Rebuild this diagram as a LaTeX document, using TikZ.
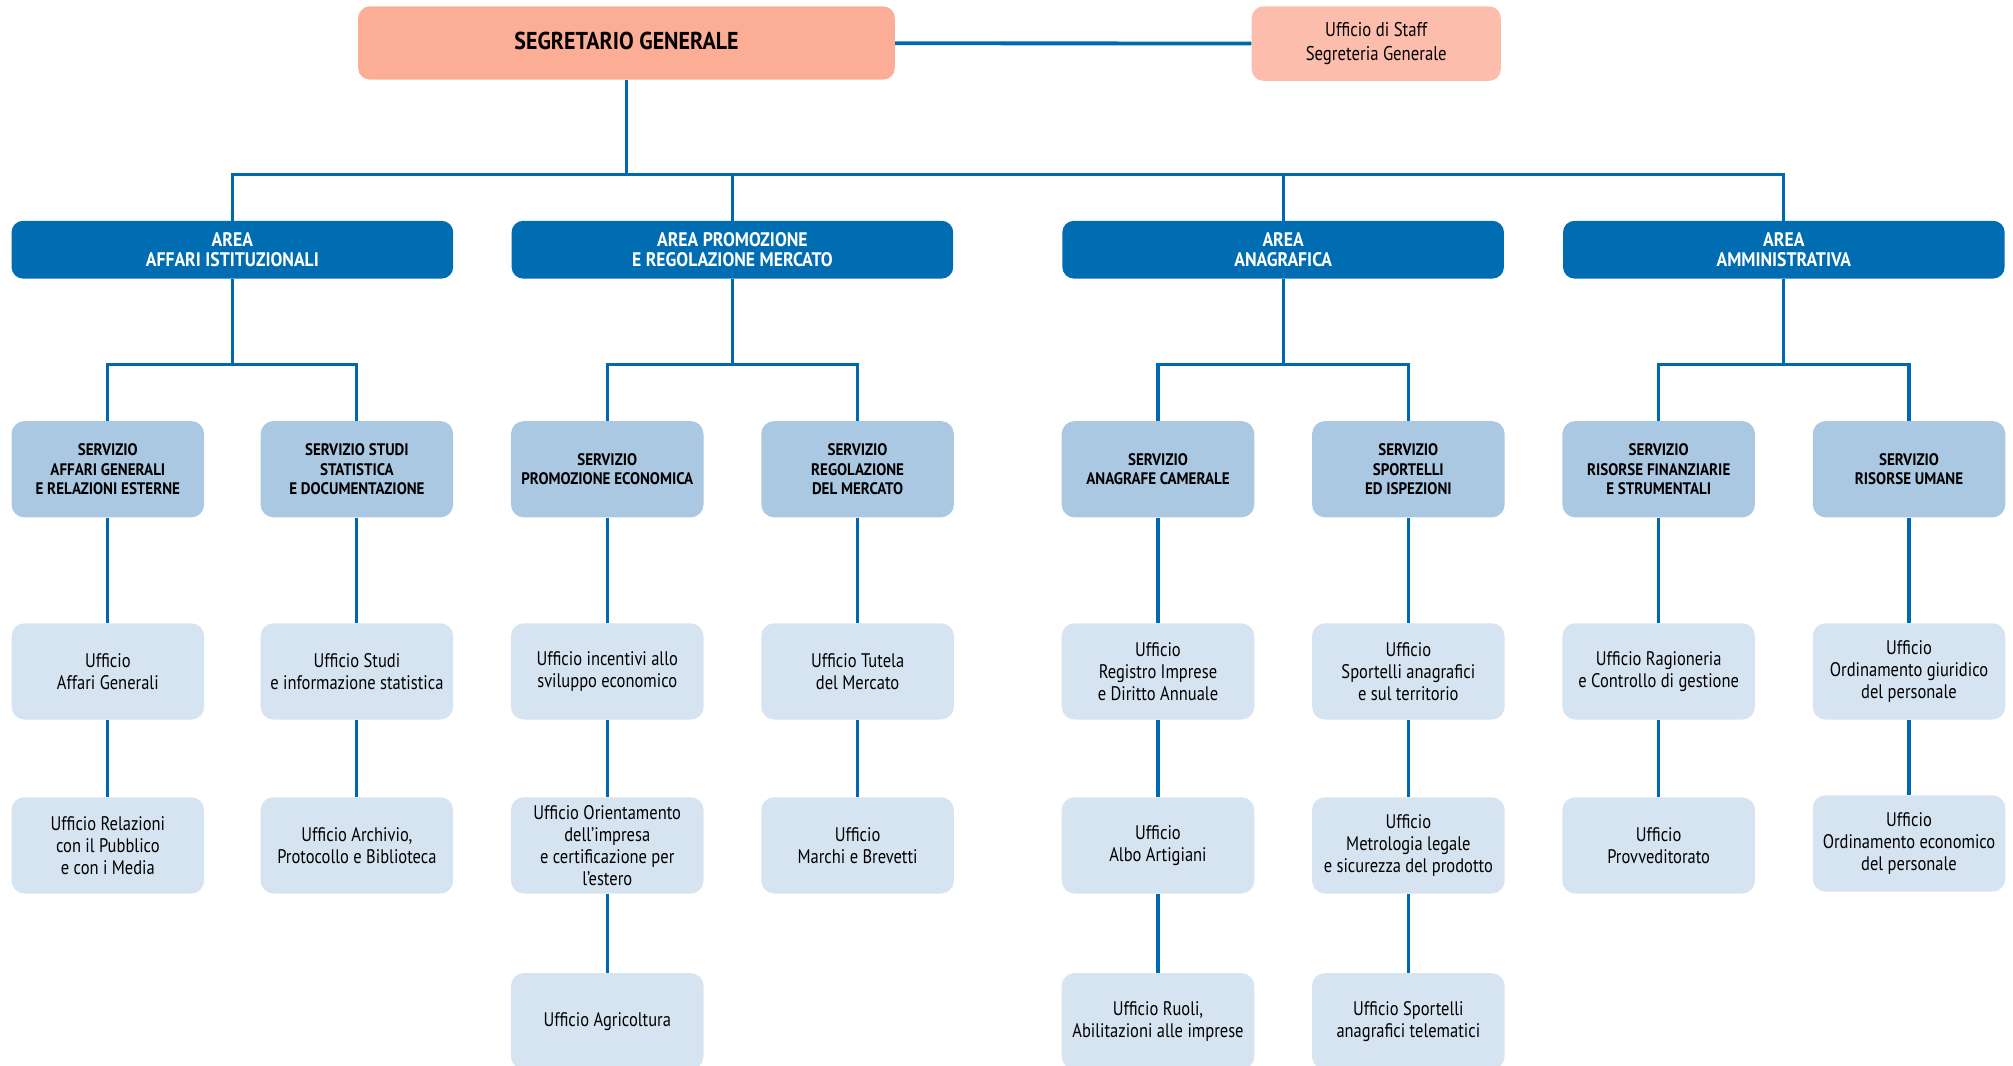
\documentclass[tikz,border=0pt]{standalone}
\usepackage{fontspec}
\setmainfont[FakeStretch=0.84,BoldFeatures={FakeStretch=0.9}]{PT Sans}
\usepackage{xcolor}
\usepackage{tikz}
\usetikzlibrary{positioning,calc}

\definecolor{segfill}{RGB}{252,173,150}
\definecolor{stafffill}{RGB}{253,189,172}
\definecolor{areafill}{RGB}{0,109,179}
\definecolor{servfill}{RGB}{171,200,226}
\definecolor{uffill}{RGB}{214,228,241}
\definecolor{linecol}{RGB}{0,104,177}

\begin{document}
\begin{tikzpicture}[x=1pt,y=-1pt,
    conn/.style={draw=linecol, line width=2.4pt},
    sgbox/.style={fill=segfill, rounded corners=9pt, minimum width=418pt, minimum height=57pt, inner sep=0pt, align=center, font=\fontsize{19}{21}\selectfont\bfseries},
    staffbox/.style={fill=stafffill, rounded corners=9pt, minimum width=194pt, minimum height=58pt, inner sep=0pt, align=center, font=\fontsize{15.5}{19}\selectfont},
    areabox/.style={fill=areafill, text=white, rounded corners=9pt, minimum width=344pt, minimum height=45pt, inner sep=0pt, align=center, font=\fontsize{15.3}{15.5}\selectfont\bfseries},
    servbox/.style={fill=servfill, rounded corners=10pt, minimum width=150pt, minimum height=75pt, inner sep=0pt, align=center, font=\fontsize{13}{15}\selectfont\bfseries},
    ufbox/.style={fill=uffill, rounded corners=10pt, minimum width=150pt, minimum height=75pt, inner sep=0pt, align=center, font=\fontsize{15.3}{17.2}\selectfont}]
    \clip (0,0) rectangle (1568,829.6);

    % Vertice
    \node[sgbox] (sg) at (488,33.5) {\raisebox{3pt}{SEGRETARIO GENERALE}};
    \node[staffbox] (st) at (1072,34) {\raisebox{4pt}{\begin{tabular}{@{}c@{}}Ufficio di Staff\\Segreteria Generale\end{tabular}}};

    % Aree
    \node[areabox] (a1) at (181,194.5) {AREA\\AFFARI ISTITUZIONALI};
    \node[areabox] (a2) at (570.5,194.5) {AREA PROMOZIONE\\E REGOLAZIONE MERCATO};
    \node[areabox] (a3) at (999.5,194.5) {AREA\\ANAGRAFICA};
    \node[areabox] (a4) at (1389.5,194.5) {AREA\\AMMINISTRATIVA};

    % Servizi
    \node[servbox] (s1) at (84,365.5) {SERVIZIO\\AFFARI GENERALI\\E RELAZIONI ESTERNE};
    \node[servbox] (s2) at (278,365.5) {SERVIZIO STUDI\\STATISTICA\\E DOCUMENTAZIONE};
    \node[servbox] (s3) at (473,365.5) {SERVIZIO\\PROMOZIONE ECONOMICA};
    \node[servbox] (s4) at (668,365.5) {SERVIZIO\\REGOLAZIONE\\DEL MERCATO};
    \node[servbox] (s5) at (902,365.5) {SERVIZIO\\ANAGRAFE CAMERALE};
    \node[servbox] (s6) at (1097,365.5) {SERVIZIO\\SPORTELLI\\ED ISPEZIONI};
    \node[servbox] (s7) at (1292,365.5) {SERVIZIO\\RISORSE FINANZIARIE\\E STRUMENTALI};
    \node[servbox] (s8) at (1487,365.5) {SERVIZIO\\RISORSE UMANE};

    % Uffici, prima fila
    \node[ufbox] (u1a) at (84,523) {Ufficio\\Affari Generali};
    \node[ufbox] (u2a) at (278,523) {Ufficio Studi\\e informazione statistica};
    \node[ufbox] (u3a) at (473,523) {Ufficio incentivi allo\\sviluppo economico};
    \node[ufbox] (u4a) at (668,523) {Ufficio Tutela\\del Mercato};
    \node[ufbox] (u5a) at (902,523) {Ufficio\\Registro Imprese\\e Diritto Annuale};
    \node[ufbox] (u6a) at (1097,523) {Ufficio\\Sportelli anagrafici\\e sul territorio};
    \node[ufbox] (u7a) at (1292,523) {Ufficio Ragioneria\\e Controllo di gestione};
    \node[ufbox] (u8a) at (1487,523) {Ufficio\\Ordinamento giuridico\\del personale};

    % Uffici, seconda fila
    \node[ufbox] (u1b) at (84,658.5) {Ufficio Relazioni\\con il Pubblico\\e con i Media};
    \node[ufbox] (u2b) at (278,658.5) {Ufficio Archivio,\\Protocollo e Biblioteca};
    \node[ufbox] (u3b) at (473,658.5) {Ufficio Orientamento\\dell’impresa\\e certificazione per\\l’estero};
    \node[ufbox] (u4b) at (668,658.5) {Ufficio\\Marchi e Brevetti};
    \node[ufbox] (u5b) at (902,658.5) {Ufficio\\Albo Artigiani};
    \node[ufbox] (u6b) at (1097,658.5) {Ufficio\\Metrologia legale\\e sicurezza del prodotto};
    \node[ufbox] (u7b) at (1292,658.5) {Ufficio\\Provveditorato};
    \node[ufbox] (u8b) at (1487,657) {Ufficio\\Ordinamento economico\\del personale};

    % Uffici, terza fila
    \node[ufbox] (u3c) at (473,795.5) {Ufficio Agricoltura};
    \node[ufbox] (u5c) at (902,795.5) {Ufficio Ruoli,\\Abilitazioni alle imprese};
    \node[ufbox] (u6c) at (1097,795.5) {Ufficio Sportelli\\anagrafici telematici};

    % Collegamenti
    \draw[conn, line width=3pt] (sg) -- (st);
    \draw[conn] (sg.south) -- ++(0,74) coordinate (bus) -| (a1.north);
    \draw[conn] (bus) -| (a2.north);
    \draw[conn] (bus) -| (a3.north);
    \draw[conn] (bus) -| (a4.north);
    \draw[conn] (a1.south) -- ++(0,67) -| (s1.north);
    \draw[conn] (a1.south) ++(0,67) -| (s2.north);
    \draw[conn] (a2.south) -- ++(0,67) -| (s3.north);
    \draw[conn] (a2.south) ++(0,67) -| (s4.north);
    \draw[conn] (a3.south) -- ++(0,67) -| (s5.north);
    \draw[conn] (a3.south) ++(0,67) -| (s6.north);
    \draw[conn] (a4.south) -- ++(0,67) -| (s7.north);
    \draw[conn] (a4.south) ++(0,67) -| (s8.north);
    \draw[conn] (s1) -- (u1a) -- (u1b);
    \draw[conn] (s2) -- (u2a) -- (u2b);
    \draw[conn] (s3) -- (u3a) -- (u3b) -- (u3c);
    \draw[conn] (s4) -- (u4a) -- (u4b);
    \draw[conn] (s5) -- (u5a) -- (u5b) -- (u5c);
    \draw[conn] (s6) -- (u6a) -- (u6b) -- (u6c);
    \draw[conn] (s7) -- (u7a) -- (u7b);
    \draw[conn] (s8) -- (u8a) -- (u8b);
\end{tikzpicture}
\end{document}
